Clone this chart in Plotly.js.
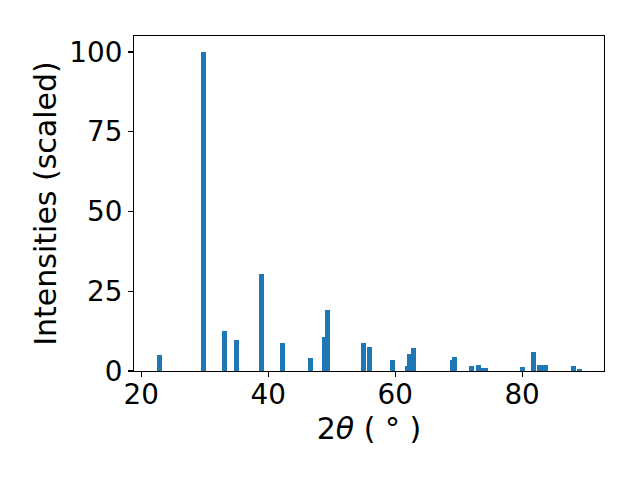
<!DOCTYPE html>
<html>
<head>
<meta charset="utf-8">
<script src="https://cdn.plot.ly/plotly-3.0.1.min.js"></script>
<style>html,body{margin:0;padding:0;background:#fff;}#chart{width:640px;height:480px;}</style>
</head>
<body>
<div id="chart"></div>
<script>
const twoTheta = [22.8, 29.75, 33.05, 34.95, 38.9, 42.2, 46.6, 48.8, 49.3, 55.0, 55.9, 59.6, 61.9, 62.25, 62.9, 69.0, 69.3, 72.0, 73.1, 73.8, 74.2, 80.05, 81.8, 82.7, 83.6, 88.1, 89.05];
const intensity = [4.9, 100, 12.4, 9.6, 30.3, 8.7, 4.0, 10.6, 19.0, 8.7, 7.4, 3.4, 1.5, 5.2, 7.1, 3.4, 4.3, 1.5, 1.8, 0.9, 0.9, 1.2, 5.9, 1.9, 1.9, 1.5, 0.6];
const xTicks = [20, 40, 60, 80];
const yTicks = [0, 25, 50, 75, 100];

const tickFont = {family: 'DejaVu Sans', size: 27.8, color: '#000'};
const titleFont = {family: 'DejaVu Sans', size: 30, color: '#000'};
const trace = {
  type: 'bar',
  x: twoTheta,
  y: intensity,
  width: twoTheta.map(() => 0.8),
  marker: {color: '#1f77b4', line: {width: 0}},
  hoverinfo: 'none'
};
const layout = {
  width: 640, height: 480,
  margin: {l: 134, r: 36, t: 36, b: 109, pad: 0},
  paper_bgcolor: '#fff', plot_bgcolor: '#fff',
  showlegend: false,
  font: tickFont,
  bargap: 0,
  xaxis: {
    range: [18.85, 92.9],
    tickvals: xTicks, ticktext: xTicks.map(String),
    ticks: 'outside', ticklen: 5, tickwidth: 1.1, tickcolor: '#000',
    ticklabelstandoff: -6,
    showline: true, linecolor: '#000', linewidth: 1.1, mirror: true,
    showgrid: false, zeroline: false,
    tickfont: tickFont,
    title: {text: '2<i>θ</i> ( ° )', font: titleFont, standoff: 4}
  },
  yaxis: {
    range: [0, 105],
    tickvals: yTicks, ticktext: yTicks.map(String),
    ticks: 'outside', ticklen: 5, tickwidth: 1.1, tickcolor: '#000',
    showline: true, linecolor: '#000', linewidth: 1.1, mirror: true,
    showgrid: false, zeroline: false,
    tickfont: tickFont,
    title: {text: 'Intensities (scaled)', font: titleFont, standoff: 3}
  }
};
Plotly.newPlot('chart', [trace], layout, {staticPlot: true, displayModeBar: false});
</script>
</body>
</html>
